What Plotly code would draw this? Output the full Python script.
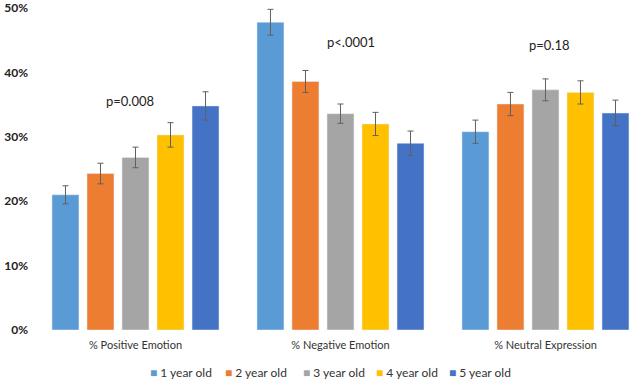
import plotly.graph_objects as go

categories = ["% Positive Emotion", "% Negative Emotion", "% Neutral Expression"]
series_names = ["1 year old", "2 year old", "3 year old", "4 year old", "5 year old"]
values = [
    [0.210, 0.478, 0.308],
    [0.243, 0.386, 0.351],
    [0.268, 0.336, 0.373],
    [0.303, 0.320, 0.369],
    [0.348, 0.290, 0.337],
]
errors = [
    [0.014, 0.020, 0.018],
    [0.016, 0.017, 0.018],
    [0.016, 0.015, 0.017],
    [0.019, 0.018, 0.018],
    [0.022, 0.019, 0.020],
]
p_labels = ["p=0.008", "p<.0001", "p=0.18"]
p_y = [0.356, 0.447, 0.443]
y_ticks = [0, 0.1, 0.2, 0.3, 0.4, 0.5]
y_tick_text = ["0%", "10%", "20%", "30%", "40%", "50%"]

colors = ["#5B9BD5", "#ED7D31", "#A5A5A5", "#FFC000", "#4472C4"]
legend_x_px = [148, 223, 301, 374, 447]  # left of each legend item, pixels
p_xshift = [-5, 11, 4]

W, H = 633, 380
L, R, T, B = 33, 0, 8, 50

fig = go.Figure()
for name, vals, errs, c in zip(series_names, values, errors, colors):
    fig.add_trace(go.Bar(
        x=categories, y=vals, name=name, marker_color=c, showlegend=False,
        error_y=dict(type="data", array=errs, visible=True, color="#606060",
                     thickness=1, width=3),
    ))

for cat, lab, py, xs in zip(categories, p_labels, p_y, p_xshift):
    fig.add_annotation(x=cat, y=py, text=lab, showarrow=False,
                       font=dict(size=13, color="#222222"), xshift=xs)

# legend drawn as text items
for name, c, px in zip(series_names, colors, legend_x_px):
    fig.add_annotation(
        xref="paper", yref="paper", x=(px - L) / (W - L - R), y=(330 - 372) / (H - T - B),
        xanchor="left", yanchor="middle", showarrow=False,
        text=f"<span style='color:{c}'>■</span> {name}",
        font=dict(size=12, color="#333333"),
    )

fig.update_layout(
    width=W, height=H,
    margin=dict(l=L, r=R, t=T, b=B, autoexpand=False),
    barmode="group", bargap=0.146, bargroupgap=0.23,
    plot_bgcolor="white", paper_bgcolor="white",
    font=dict(family="Lato, Carlito, Calibri, sans-serif", color="#222222"),
    showlegend=False,
)
fig.update_xaxes(range=[-0.5, 2.427], showline=False, ticks="", automargin=False,
                 tickfont=dict(size=11, color="#333333"), ticklabelstandoff=7)
fig.update_yaxes(range=[0, 0.5001], tickvals=y_ticks, ticktext=y_tick_text,
                 showgrid=False, zeroline=False, showline=False, automargin=False,
                 tickfont=dict(size=12, color="#222222", weight="bold"),
                 ticklabelstandoff=4)

fig.write_html("out.html", config={"displayModeBar": False},
               post_script="document.body.style.margin='0';document.body.style.overflow='hidden';")
